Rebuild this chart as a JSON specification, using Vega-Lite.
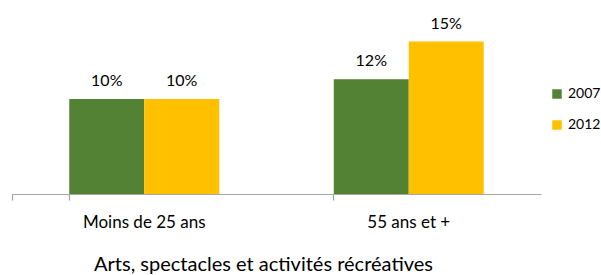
{
  "$schema": "https://vega.github.io/schema/vega-lite/v6.json",
  "autosize": {"type": "none"},
  "padding": {"left": 12, "top": 6, "right": 60, "bottom": 81},
  "width": 529,
  "height": 188,
  "background": "white",
  "config": {"view": {"stroke": null}, "font": "Lato"},
  "data": {"values": [
    {"group": "Moins de 25 ans", "year": "2007", "value": 0.096},
    {"group": "Moins de 25 ans", "year": "2012", "value": 0.096},
    {"group": "55 ans et +", "year": "2007", "value": 0.116},
    {"group": "55 ans et +", "year": "2012", "value": 0.154}
  ]},
  "encoding": {
    "x": {
      "field": "group", "type": "nominal", "sort": ["Moins de 25 ans", "55 ans et +"],
      "scale": {"paddingInner": 0.433, "paddingOuter": 0.2165},
      "axis": {
        "title": "Arts, spectacles et activités récréatives",
        "labelAngle": 0, "labelFontSize": 17, "labelColor": "#000", "labelPadding": 14,
        "titleFontSize": 20, "titleFontWeight": "normal", "titleColor": "#000", "titlePadding": 24, "titleX": 251,
        "domainColor": "#A6A6A6", "domainWidth": 1.2, "ticks": true, "tickColor": "#A0A0A0", "tickSize": 6, "tickWidth": 1.2,
        "bandPosition": 0, "tickExtra": true
      }
    },
    "xOffset": {"field": "year", "type": "nominal"},
    "y": {"field": "value", "type": "quantitative", "scale": {"domain": [0, 0.19]}, "axis": null}
  },
  "layer": [
    {
      "mark": {"type": "bar"},
      "encoding": {
        "color": {
          "field": "year", "type": "nominal",
          "scale": {"domain": ["2007", "2012"], "range": ["#548235", "#FFC000"]},
          "legend": {
            "title": null, "orient": "none", "legendX": 538, "legendY": 81,
            "symbolType": "square", "symbolSize": 90, "symbolStrokeWidth": 0,
            "labelFontSize": 14, "labelColor": "#000", "rowPadding": 17, "labelOffset": 4
          }
        }
      }
    },
    {
      "mark": {"type": "text", "dy": -13, "baseline": "alphabetic", "fontSize": 16, "color": "#000"},
      "encoding": {"text": {"field": "value", "type": "quantitative", "format": ".0%"}}
    }
  ]
}
